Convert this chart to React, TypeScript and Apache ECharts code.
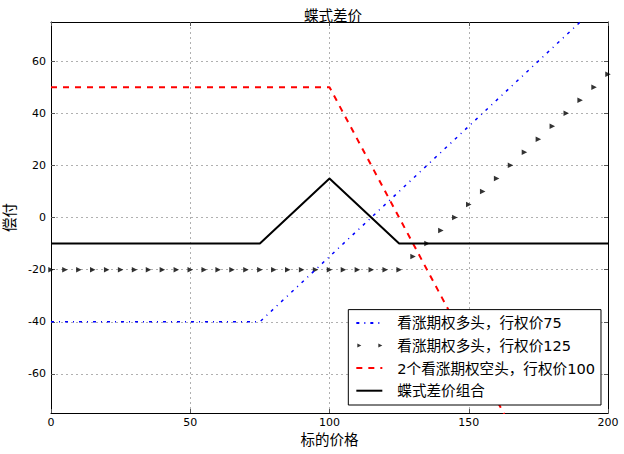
import React, { useEffect, useRef } from "react";
import * as echarts from "echarts";

// Kink points of the piecewise-linear payoffs
const kinkPrices = [0, 75, 100, 125, 200];
const longCall75 = [-40, -40, -15, 10, 85];
const shortCall100x2 = [50, 50, 50, 0, -150];
const butterfly = [-10, -10, 15, -10, -10];

// Marker series (every 5)
const markerPrices = [
  0, 5, 10, 15, 20, 25, 30, 35, 40, 45, 50, 55, 60, 65, 70, 75, 80, 85, 90, 95,
  100, 105, 110, 115, 120, 125, 130, 135, 140, 145, 150, 155, 160, 165, 170,
  175, 180, 185, 190, 195, 200,
];
const longCall125 = [
  -20, -20, -20, -20, -20, -20, -20, -20, -20, -20, -20, -20, -20, -20, -20,
  -20, -20, -20, -20, -20, -20, -20, -20, -20, -20, -20, -15, -10, -5, 0, 5,
  10, 15, 20, 25, 30, 35, 40, 45, 50, 55,
];

const yTicks = [-60, -40, -20, 0, 20, 40, 60];

const seriesNames = [
  "看涨期权多头，行权价75",
  "看涨期权多头，行权价125",
  "2个看涨期权空头，行权价100",
  "蝶式差价组合",
];

const FONT = "'DejaVu Sans', 'Noto Sans CJK SC', sans-serif";

const pair = (xs: number[], ys: number[]) => xs.map((x, i) => [x, ys[i]]);

export default function App() {
  const ref = useRef<HTMLDivElement>(null);
  useEffect(() => {
    if (!ref.current) return;
    const chart = echarts.init(ref.current, null, { renderer: "svg" });
    const axisCommon = {
      axisLine: { show: true, onZero: false, lineStyle: { color: "#000", width: 1 } },
      axisTick: { show: true, inside: true, length: 4, lineStyle: { color: "#555" } },
    };
    const gridLine = { show: true, lineStyle: { color: "#b0b0b0", type: [2, 3], width: 1 } };
    chart.setOption({
      animation: false,
      title: {
        text: "蝶式差价",
        left: 328,
        textAlign: "center",
        top: 4,
        textStyle: { fontFamily: FONT, fontSize: 14.5, fontWeight: "normal", color: "#000" },
      },
      grid: { left: 51, right: 16, top: 22, bottom: 41, containLabel: false, outerBoundsMode: "none" },
      xAxis: [
        {
          type: "value",
          min: 0,
          max: 200,
          interval: 50,
          position: "bottom",
          ...axisCommon,
          splitLine: gridLine,
          axisLabel: { color: "#000", fontSize: 11, fontFamily: FONT, margin: 4 },
          name: "标的价格",
          nameLocation: "middle",
          nameGap: 20,
          nameTextStyle: { fontFamily: FONT, fontSize: 14.5, color: "#000" },
        },
        {
          type: "value",
          min: 0,
          max: 200,
          interval: 50,
          position: "top",
          ...axisCommon,
          splitLine: { show: false },
          axisLabel: { show: false },
        },
      ],
      yAxis: [
        {
          type: "value",
          min: -75,
          max: 75,
          position: "left",
          ...axisCommon,
          axisTick: { ...axisCommon.axisTick, customValues: yTicks },
          axisLabel: { color: "#000", fontSize: 11, fontFamily: FONT, margin: 5, customValues: yTicks },
          splitLine: gridLine,
          name: "偿付",
          nameLocation: "middle",
          nameGap: 30,
          nameTextStyle: { fontFamily: FONT, fontSize: 14.5, color: "#000" },
        },
        {
          type: "value",
          min: -75,
          max: 75,
          position: "right",
          ...axisCommon,
          axisTick: { ...axisCommon.axisTick, customValues: yTicks },
          axisLabel: { show: false, customValues: yTicks },
          splitLine: { show: false },
        },
      ],
      legend: {
        orient: "vertical",
        right: 23,
        bottom: 49,
        padding: [6, 6, 7, 7],
        itemGap: 8,
        itemWidth: 26,
        itemHeight: 14,
        borderColor: "#000",
        borderWidth: 1,
        borderRadius: 0,
        backgroundColor: "#fff",
        textStyle: { fontFamily: FONT, fontSize: 14.6, color: "#000", padding: [0, 0, 0, 10] },
        data: [
          { name: seriesNames[0], itemStyle: { opacity: 0 } },
          {
            name: seriesNames[1],
            icon: "path://M0,0L0.01,0L0,0.01Z M25.99,14L26,14L26,13.99Z M1,5L5,7L1,9Z M22,5L26,7L22,9Z",
            itemStyle: { color: "#000" },
          },
          { name: seriesNames[2], itemStyle: { opacity: 0 } },
          { name: seriesNames[3], itemStyle: { opacity: 0 } },
        ],
      },
      series: [
        {
          name: seriesNames[0],
          type: "line",
          data: pair(kinkPrices, longCall75),
          symbol: "none",
          lineStyle: { color: "#0000ff", width: 1.5, type: [3, 5, 1, 5] },
          itemStyle: { color: "#0000ff" },
          clip: true,
        },
        {
          name: seriesNames[1],
          type: "scatter",
          data: pair(markerPrices, longCall125),
          symbol: "triangle",
          symbolRotate: -90,
          symbolSize: 5.5,
          itemStyle: { color: "#000" },
          clip: true,
        },
        {
          name: seriesNames[2],
          type: "line",
          data: pair(kinkPrices, shortCall100x2),
          symbol: "none",
          lineStyle: { color: "#ff0000", width: 2, type: [6, 6] },
          itemStyle: { color: "#ff0000" },
          clip: true,
        },
        {
          name: seriesNames[3],
          type: "line",
          data: pair(kinkPrices, butterfly),
          symbol: "none",
          lineStyle: { color: "#000", width: 2 },
          itemStyle: { color: "#000" },
          clip: true,
        },
      ],
    });
    return () => chart.dispose();
  }, []);
  return (
    <div
      ref={ref}
      style={{ position: "fixed", left: 0, top: 0, width: 624, height: 454, background: "#fff" }}
    />
  );
}
